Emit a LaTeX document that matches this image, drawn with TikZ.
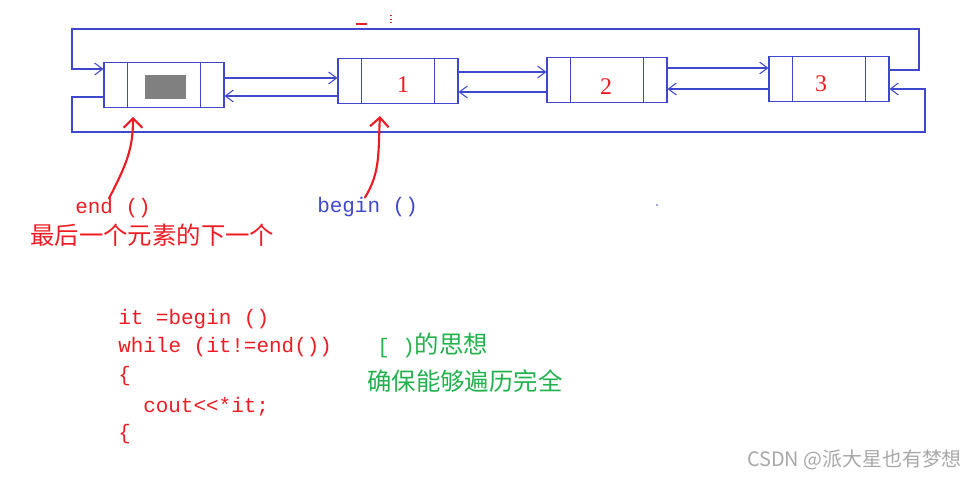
\documentclass[tikz,border=0pt]{standalone}
\usepackage{fontspec}
\usepackage{tikz}
\usetikzlibrary{arrows.meta, positioning}
\setmonofont{Liberation Mono}
\newfontfamily\cjk{Noto Sans CJK SC}
\newfontfamily\digitfont{Liberation Serif}
\definecolor{linkblue}{HTML}{3F48CC}
\definecolor{markred}{HTML}{ED1C24}
\definecolor{notegreen}{HTML}{22B14C}
\definecolor{slotgray}{HTML}{808080}
\definecolor{wmgray}{HTML}{A8A8A8}

\begin{document}
\begin{tikzpicture}[
    x=0.0265cm, y=-0.0265cm,
    nodebox/.style={rectangle, draw=linkblue, line width=0.8pt, inner sep=0pt,
                    minimum width=3.18cm, minimum height=1.19cm},
    wire/.style={draw=linkblue, line width=0.8pt},
    tip/.style={-{Straight Barb[length=6pt, width=9pt]}},
    pointer/.style={draw=markred, line width=1.6pt, line cap=round,
                    -{Straight Barb[length=7pt, width=14pt]}},
    digit/.style={text=markred, font=\digitfont\fontsize{18}{20}\selectfont},
    code/.style={anchor=base west, inner sep=0pt, text=markred,
                 font=\ttfamily\fontsize{15.8}{18}\selectfont},
    hanzi/.style={anchor=west, inner sep=0pt, font=\cjk\fontsize{18.4}{22}\selectfont}
  ]
    \useasboundingbox (0,0) rectangle (973,478);

    % list nodes
    \node[nodebox] (b0) at (164,85) {};
    \node[nodebox] (b1) at (398,81) {};
    \node[nodebox] (b2) at (607,80) {};
    \node[nodebox] (b3) at (829,79) {};
    \node[fill=slotgray, minimum width=1.09cm, minimum height=0.64cm,
          inner sep=0pt] (slot) at (165.5,87) {};
    \node[digit] (v1) at (403,85) {1};
    \node[digit] (v2) at (606,87) {2};
    \node[digit] (v3) at (821,84) {3};
    \foreach \b in {b0,b1,b2,b3} {
      \draw[wire] ([xshift=0.64cm]\b.north west) -- ([xshift=0.64cm]\b.south west);
      \draw[wire] ([xshift=-0.64cm]\b.north east) -- ([xshift=-0.64cm]\b.south east);
    }

    % next / prev links
    \draw[wire, tip] (b0.east |- 0,78) -- (b1.west |- 0,78);
    \draw[wire, tip] (b1.west |- 0,96) -- (b0.east |- 0,96);
    \draw[wire, tip] (b1.east |- 0,72) -- (b2.west |- 0,72);
    \draw[wire, tip] (b2.west |- 0,92) -- (b1.east |- 0,92);
    \draw[wire, tip] (b2.east |- 0,68) -- (b3.west |- 0,68);
    \draw[wire, tip] (b3.west |- 0,89) -- (b2.east |- 0,89);
    \draw[wire, tip] (b3.east |- 0,70) -- (919,70) -- (919,29) -- (72,29)
      -- (72,69) -- (b0.west |- 0,69);
    \draw[wire, tip] (b0.west |- 0,97) -- (72,97) -- (72,132) -- (925,132)
      -- (925,89) -- (b3.east |- 0,89);

    % stray marks
    \draw[markred, line width=0.8pt] (356,24) -- (367,24);
    \draw[markred, line width=0.8pt, dotted] (391,15) -- (391,25);
    \fill[linkblue] (657,205) circle (0.8);

    % iterator labels
    \node[code] (endlbl) at (75,214) {end ()};
    \node[hanzi, text=markred] (endnote) at (30,235) {最后一个元素的下一个};
    \node[code, text=linkblue] (beginlbl) at (317,213) {begin ()};
    \coordinate (endtip) at (133,117);
    \coordinate (begintip) at (380,116);
    \draw[pointer] ([xshift=-3pt]endlbl.north) .. controls (126,165) and (133,150) .. (endtip);
    \draw[pointer] ([xshift=-2pt]beginlbl.north) .. controls (381,172) and (378,150) .. (begintip);

    % traversal code
    \node[code] (line1) at (118,325) {it =begin ()};
    \node[code] (line2) at (118,353) {while (it!=end())};
    \node[code] (line3) at (118,382) {\{};
    \node[code] (line4) at (143,412) {cout<<*it;};
    \node[code] (line5) at (118,440) {\{};
    \node[anchor=base west, inner sep=0pt, text=notegreen] (idea) at (377,354)
      {{\ttfamily\fontsize{15.8}{18}\selectfont[ )}{\cjk\fontsize{18.4}{22}\selectfont 的思想}};
    \node[hanzi, text=notegreen] (sure) at (367,381) {确保能够遍历完全};

    \node[anchor=west, inner sep=0pt, text=wmgray,
          font=\cjk\fontsize{15}{18}\selectfont] (mark) at (747,460) {CSDN @派大星也有梦想};
  \end{tikzpicture}
\end{document}
